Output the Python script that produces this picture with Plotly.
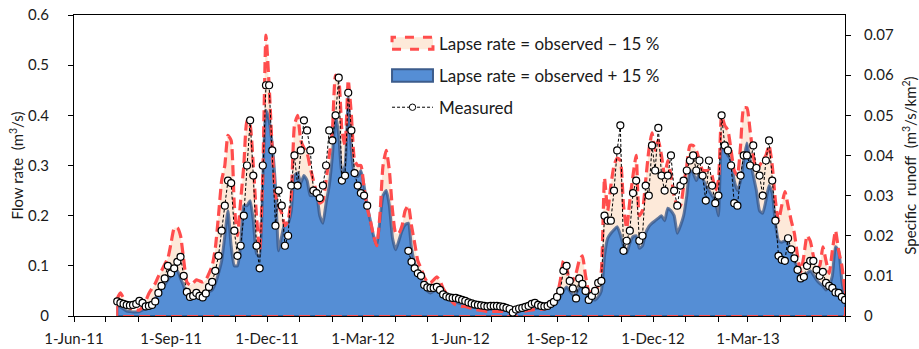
import pandas as pd
import plotly.graph_objects as go

# Daily series sampled every third day, 12 Jul 2011 to 1 Jun 2013
start_date = "2011-07-12"

measured = [
    .029, .026, .024, .022, .021, .022, .024, .030, .026, .019,
    .020, .022, .029, .046, .060, .075, .100, .085, .095, .108,
    .118, .080, .048, .038, .040, .046, .040, .037, .045, .058,
    .068, .090, .120, .170, .220, .270, .265, .170, .120, .140,
    .200, .300, .390, .280, .140, .095, .300, .460, .460, .330,
    .180, .250, .220, .140, .160, .260, .320, .260, .330, .390,
    .370, .330, .250, .245, .235, .260, .300, .370, .350, .400,
    .475, .270, .280, .445, .370, .285, .260, .245, .240, .220,
    None, None, None, None, None, None, None, None, None, None,
    None, None, .130, .108, .095, .085, .080, .062, .057, .056,
    .056, .058, .052, .043, .039, .037, .036, .036, .034, .032,
    .030, .027, .025, .023, .022, .021, .020, .019, .020, .020,
    .020, .019, .018, .016, .014, .007, .013, .015, .016, .018,
    .020, .024, .026, .022, .020, .019, .020, .024, .028, .038,
    .050, .090, .100, .070, .055, .035, .075, .064, .050, .032,
    .040, .050, .066, .070, .200, .190, .190, .250, .330, .380,
    .130, .150, .170, .245, .270, .150, .160, .260, .240, .340,
    .290, .375, .280, .250, .280, .320, .250, .220, .260, .270,
    .290, .310, .320, .290, .310, .280, .230, .310, .260, .225,
    .240, .400, .340, .330, .300, .225, .220, .280, .320, .320,
    .300, .340, .295, .280, .240, .310, .350, .270, .190, .120,
    .112, .110, .155, .133, .115, .092, .075, .078, .100, .110,
    .110, .092, .080, .088, .066, .060, .056, .047, .046, .038,
    .032,
]

lapse_minus15 = [
    .035, .046, .035, .020, .016, .013, .012, .012, .018, .030,
    .045, .055, .065, .079, .090, .103, .115, .145, .175, .176,
    .160, .112, .068, .062, .066, .072, .070, .068, .072, .085,
    .100, .135, .200, .270, .300, .360, .350, .220, .160, .230,
    .300, .390, .380, .300, .200, .130, .280, .560, .460, .330,
    .240, .220, .205, .180, .190, .240, .380, .400, .350, .335,
    .325, .295, .270, .245, .225, .230, .270, .320, .370, .480,
    .470, .370, .340, .470, .400, .310, .300, .300, .255, .215,
    .190, .160, .140, .200, .300, .330, .290, .210, .165, .165,
    .180, .210, .220, .180, .145, .110, .095, .078, .068, .066,
    .072, .078, .070, .055, .045, .035, .027, .022, .020, .019,
    .019, .017, .015, .013, .012, .011, .010, .009, .009, .009,
    .009, .009, .009, .008, .008, .008, .008, .009, .009, .010,
    .011, .012, .013, .013, .013, .014, .016, .020, .027, .040,
    .070, .110, .100, .065, .070, .085, .110, .120, .080, .050,
    .047, .052, .060, .090, .275, .210, .260, .300, .315, .310,
    .220, .175, .230, .280, .320, .200, .210, .270, .330, .365,
    .330, .350, .320, .280, .310, .280, .240, .220, .220, .260,
    .300, .340, .340, .330, .310, .290, .290, .290, .280, .250,
    .270, .400, .380, .370, .330, .290, .280, .340, .415, .415,
    .370, .320, .290, .300, .310, .320, .340, .300, .230, .190,
    .220, .248, .220, .190, .165, .120, .088, .120, .160, .150,
    .120, .095, .100, .138, .110, .085, .130, .170, .130, .100,
    .050,
]

lapse_plus15 = [
    .020, .018, .014, .010, .009, .008, .008, .009, .012, .015,
    .020, .025, .035, .045, .055, .062, .072, .082, .090, .090,
    .075, .060, .040, .036, .038, .045, .046, .044, .044, .048,
    .052, .065, .085, .110, .160, .210, .140, .100, .100, .140,
    .220, .220, .230, .190, .125, .118, .270, .410, .390, .340,
    .260, .130, .160, .185, .185, .210, .280, .285, .265, .280,
    .270, .240, .240, .240, .200, .185, .225, .260, .320, .400,
    .360, .285, .300, .435, .330, .280, .278, .290, .260, .220,
    .190, .160, .140, .190, .240, .250, .220, .155, .132, .150,
    .170, .182, .185, .135, .105, .088, .075, .060, .050, .046,
    .049, .052, .046, .041, .036, .033, .030, .028, .026, .024,
    .021, .020, .018, .017, .016, .016, .015, .014, .013, .013,
    .012, .012, .011, .011, .010, .009, .009, .010, .011, .012,
    .013, .014, .015, .015, .015, .016, .017, .019, .022, .027,
    .038, .050, .058, .050, .042, .045, .055, .057, .045, .037,
    .033, .032, .038, .050, .120, .155, .165, .172, .178, .162,
    .140, .125, .145, .158, .160, .135, .140, .165, .178, .185,
    .190, .195, .200, .190, .215, .210, .200, .165, .180, .200,
    .240, .290, .285, .270, .285, .275, .260, .250, .240, .230,
    .200, .340, .330, .320, .310, .270, .250, .270, .310, .345,
    .310, .280, .250, .210, .205, .230, .260, .245, .185, .150,
    .147, .150, .145, .127, .110, .095, .075, .078, .085, .090,
    .082, .072, .065, .060, .052, .060, .080, .138, .130, .070,
    .032,
]

# Axis ticks
x_tick_dates = ["2011-06-01", "2011-09-01", "2011-12-01", "2012-03-01",
                "2012-06-01", "2012-09-01", "2012-12-01", "2013-03-01"]
x_tick_labels = ["1-Jun-11", "1-Sep-11", "1-Dec-11", "1-Mar-12",
                 "1-Jun-12", "1-Sep-12", "1-Dec-12", "1-Mar-13"]
x_range = ["2011-06-01", "2013-06-01"]
flow_range = [0, 0.6]
specific_range = [0, 0.075]

legend_labels = ["Lapse rate = observed \u2013 15 %",
                 "Lapse rate = observed + 15 %",
                 "Measured"]

dates = pd.date_range(start_date, periods=len(measured), freq="3D")

FONT = "Lato"
TEXT = "#1a1a1a"
RED = "rgb(255,77,77)"
PEACH = "rgb(253,233,217)"
BLUE = "rgb(85,142,213)"
BLUE_EDGE = "rgba(52,84,135,0.75)"

fig = go.Figure()

# peach area (-15 %)
fig.add_trace(go.Scatter(
    x=dates, y=lapse_minus15, mode="lines", fill="tozeroy",
    fillcolor=PEACH, line=dict(width=0, shape="spline", smoothing=0.5),
    showlegend=False, hoverinfo="skip"))

# blue area (+15 %)
fig.add_trace(go.Scatter(
    x=dates, y=lapse_plus15, mode="lines", fill="tozeroy",
    fillcolor=BLUE, line=dict(color=BLUE_EDGE, width=3, shape="spline", smoothing=0.5),
    showlegend=False, name=legend_labels[1]))

# closing edges of the blue area along the baseline
fig.add_trace(go.Scatter(
    x=[dates[-1], dates[-1], dates[0], dates[0]],
    y=[lapse_plus15[-1], 0, 0, lapse_plus15[0]],
    mode="lines", line=dict(color=BLUE_EDGE, width=2),
    showlegend=False, hoverinfo="skip"))

# red dashed outline of the -15 % area
fig.add_trace(go.Scatter(
    x=dates, y=lapse_minus15, mode="lines",
    line=dict(color=RED, width=3.2, dash="11px,5px", shape="spline", smoothing=0.5),
    showlegend=False, name=legend_labels[0]))
fig.add_trace(go.Scatter(
    x=[dates[-1], dates[-1], dates[0], dates[0]],
    y=[lapse_minus15[-1], 0, 0, lapse_minus15[0]],
    mode="lines", line=dict(color=RED, width=2, dash="11px,5px"),
    showlegend=False, hoverinfo="skip"))

# measured flow
fig.add_trace(go.Scatter(
    x=dates, y=measured, mode="lines+markers",
    line=dict(color="black", width=1, dash="3px,2px"),
    marker=dict(symbol="circle", size=7, color="white",
                line=dict(color="black", width=1.2)),
    showlegend=False, name=legend_labels[2]))

# secondary axis carrier
fig.add_trace(go.Scatter(x=[dates[0]], y=[None], yaxis="y2", showlegend=False,
                         hoverinfo="skip"))

# hand-drawn legend
x0, x1 = 0.4125, 0.4656
fig.add_shape(type="rect", xref="paper", yref="paper",
              x0=x0, x1=x1, y0=0.886, y1=0.926,
              fillcolor=PEACH, line=dict(color=RED, width=3, dash="dash"))
fig.add_shape(type="rect", xref="paper", yref="paper",
              x0=x0, x1=x1, y0=0.7786, y1=0.8198,
              fillcolor=BLUE, line=dict(color="rgb(60,92,140)", width=2))
fig.add_shape(type="line", xref="paper", yref="paper",
              x0=x0, x1=x1, y0=0.6936, y1=0.6936,
              line=dict(color="black", width=1, dash="3px,2px"))
fig.add_shape(type="circle", xref="paper", yref="paper",
              xsizemode="pixel", ysizemode="pixel",
              xanchor=(x0 + x1) / 2, yanchor=0.6936,
              x0=-3.2, x1=3.2, y0=-3.2, y1=3.2,
              fillcolor="white", line=dict(color="black", width=1))
for label, yy in zip(legend_labels, [0.906, 0.800, 0.6936]):
    fig.add_annotation(text=label, xref="paper", yref="paper",
                       x=0.4708, y=yy, xanchor="left", yanchor="middle",
                       showarrow=False, font=dict(family=FONT, size=17, color=TEXT))

axis_font = dict(family=FONT, size=15, color=TEXT)
fig.update_layout(
    width=919, height=349,
    margin=dict(l=74, r=74, t=15, b=33, autoexpand=False),
    paper_bgcolor="white", plot_bgcolor="white",
    font=axis_font,
    xaxis=dict(
        type="date", range=x_range, automargin=False,
        tickmode="array", tickvals=x_tick_dates, ticktext=x_tick_labels,
        ticks="outside", ticklen=5, tickcolor="black",
        minor=dict(tickmode="linear", tick0="2011-06-01", dtick="M1",
                   ticks="outside", ticklen=5, tickcolor="black"),
        showline=True, linecolor="black", linewidth=1, mirror=True,
        showgrid=False, zeroline=False, ticklabelstandoff=4,
        tickfont=axis_font),
    yaxis=dict(
        range=flow_range, dtick=0.1, tick0=0, automargin=False,
        ticks="outside", ticklen=5, tickcolor="black",
        showline=True, linecolor="black", linewidth=1,
        showgrid=False, zeroline=False, ticklabelstandoff=16,
        tickfont=axis_font,
        title=dict(text="Flow rate  (m<sup>3</sup>/s)", font=axis_font, standoff=0)),
    yaxis2=dict(
        range=specific_range, dtick=0.01, tick0=0, overlaying="y", side="right",
        automargin=False,
        ticks="outside", ticklen=5, tickcolor="black",
        showline=True, linecolor="black", linewidth=1,
        showgrid=False, zeroline=False, ticklabelstandoff=10,
        tickfont=axis_font,
        title=dict(text="Specific  runoff  (m<sup>3</sup>/s/km<sup>2</sup>)",
                   font=axis_font, standoff=14)),
)

fig.write_html("out.html")
